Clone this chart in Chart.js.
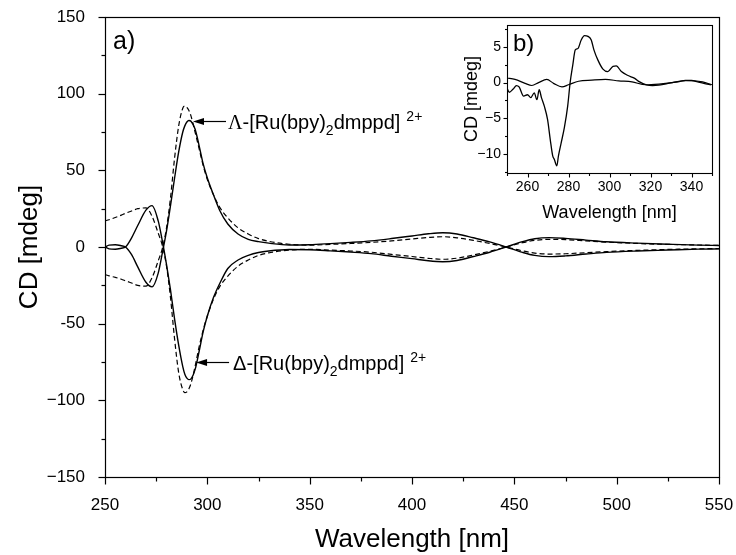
<!DOCTYPE html>
<html>
<head>
<meta charset="utf-8">
<script src="https://cdn.jsdelivr.net/npm/chart.js@4.4.0/dist/chart.umd.min.js"></script>
<style>
  body { margin: 0; background: #fff; }
  #wrap { position: relative; width: 736px; height: 555px; }
  #main { position: absolute; left: 0; top: 0; }
  #inset { position: absolute; left: 440px; top: 18px; }
</style>
</head>
<body>
<div id="wrap">
  <canvas id="main" width="736" height="555"></canvas>
  <canvas id="inset" width="279" height="212"></canvas>
</div>
<script>
// main panel a) : CD spectra of the two enantiomers (solid / dashed)
const wavelength = [250, 252, 255, 258, 260, 263, 266, 270, 273, 276, 278, 280, 282, 284, 286, 288, 289, 290, 291, 292,
  294, 296, 298, 300, 303, 306, 310, 315, 320, 325, 330, 340, 350, 360, 370, 380, 390, 400, 408, 415,
  422, 430, 438, 446, 454, 460, 467, 475, 485, 495, 510, 525, 540, 550];

const lambdaSolid = [0, 1.2, 1.5, 0.8, 0, -5, -13, -23, -26, -17, -4, 10, 27, 45, 62, 75, 79, 81.5, 82.5, 82,
  77, 66, 54, 45, 34, 24, 15, 8.5, 5, 3.5, 2.5, 1.3, 1.5, 2.2, 3, 4, 5.5, 7.2, 8.6, 9.3,
  8.5, 6, 3.3, 0, -3.5, -5.5, -6.3, -5.8, -4.6, -3.5, -2.6, -2, -1.4, -1.2];

const deltaSolid = [0, -1.2, -1.5, -0.8, 0, 6, 14, 24, 27, 17, 4, -11, -28, -47, -64, -78, -83, -85.5, -86.5, -86,
  -80, -68, -55, -45, -33, -24, -14, -8.5, -5.5, -3.6, -2.6, -1.6, -1.8, -2.5, -3.3, -4.3, -6, -7.6, -9, -9.6,
  -8.8, -6.2, -3.4, 0, 3.5, 5.4, 6.1, 5.6, 4.5, 3.4, 2.5, 1.8, 1.2, 1];

const lambdaDash = [-18, -18.8, -19.8, -21, -22, -23.5, -25, -25.5, -20, -9, -1, 12, 32, 58, 79, 90.5, 92, 91, 89, 85.5,
  75, 64, 53, 44, 34, 26, 19, 12.5, 8.5, 5.5, 3.7, 1.8, 1.2, 1.7, 2.3, 3, 4, 5.2, 6.2, 6.7,
  6, 4.3, 2.3, 0, -2.5, -4, -4.6, -4.4, -3.7, -3, -2.2, -1.6, -1.2, -1];

const deltaDash = [17, 17.8, 19.2, 20.8, 22, 23.5, 25, 25.5, 20, 9, 1, -12, -33, -60, -82, -93, -95, -94.5, -92.5, -89,
  -78, -65, -54, -45, -34, -26, -19, -12.5, -8.5, -5.5, -3.8, -2, -1.5, -2, -2.6, -3.4, -4.8, -6.2, -7.4, -8,
  -7.3, -5.2, -2.8, 0, 2.8, 4.3, 5, 4.8, 4, 3.2, 2.3, 1.7, 1.3, 1];

// inset b)
const diffWavelength = [250, 251.1, 253, 254.6, 255.9, 258.1, 260, 261.6, 263.3, 264.6, 265.7, 266.8, 268.2, 269.8, 271.1,
  272.3, 273.1, 274.3, 275.1, 276.4, 278, 279.6, 280.8, 282.1, 283.3, 284.6, 286.2, 287.8, 289.5, 291.1,
  292.4, 294.3, 296.8, 299.2, 301.7, 303.3, 305.8, 309, 312.3, 314.7, 318, 321, 324, 327, 330.5,
  334, 337, 340, 343, 346, 349.5];
const diffCD = [-0.75, -1.35, -0.9, -0.42, -0.6, -1.9, -1.7, -2.1, -1.45, -2.4, -1.0, -2.1, -3.3, -5.2, -8,
  -10.3, -10.8, -11.7, -10.3, -8.5, -6.3, -3.3, 0, 2.5, 4.6, 4.8, 6.0, 6.6, 6.5, 6.0,
  4.6, 3.2, 1.9, 1.55, 2.3, 2.35, 1.55, 1.0, 0.6, 0.1, -0.3, -0.4, -0.35, -0.2, 0,
  0.15, 0.3, 0.3, 0.1, -0.1, -0.3];

const baseWavelength = [250, 253.9, 258.8, 262.1, 265.4, 269.4, 272.7, 276.8, 280, 284.9, 291.4, 298, 304.5, 311,
  317.6, 324.1, 330.6, 337.2, 345.4, 350];
const baseCD = [0.65, 0.45, -0.1, -0.4, 0, 0.45, -0.1, -0.6, -0.3, 0.2, 0.35, 0.45, 0.25, 0.1,
  -0.3, -0.2, 0, 0.3, 0.1, -0.3];

const FONT = '"Liberation Sans", Arial, Helvetica, sans-serif';
const SERIF = '"Liberation Serif", "Times New Roman", serif';

function pts(xs, ys) { return xs.map((x, i) => ({ x: x, y: ys[i] })); }
function range(from, to, step) { const r = []; for (let v = from; v <= to + 1e-9; v += step) r.push(+v.toFixed(6)); return r; }
function line(ctx, x1, y1, x2, y2) { ctx.beginPath(); ctx.moveTo(x1, y1); ctx.lineTo(x2, y2); ctx.stroke(); }

function ds(data, dashed, width) {
  return {
    data: data, borderColor: '#000', borderWidth: width, borderDash: dashed ? [5, 3] : [],
    pointRadius: 0, fill: false, cubicInterpolationMode: 'monotone'
  };
}

// no extra room for label overhang, layout padding decides the plot box
function noPadX(s, h) { s.height = h; s.paddingLeft = 0; s.paddingRight = 0; }
function noPadY(s, w) { s.width = w; s.paddingTop = 0; s.paddingBottom = 0; }

// frame + outward major/minor ticks
function frameTicks(chart, t) {
  const ctx = chart.ctx, a = chart.chartArea, xs = chart.scales.x, ys = chart.scales.y;
  ctx.save();
  ctx.strokeStyle = '#000';
  ctx.lineWidth = t.lw;
  ctx.strokeRect(Math.round(a.left) + 0.5, Math.round(a.top) + 0.5, Math.round(a.right - a.left), Math.round(a.bottom - a.top));
  const b = Math.round(a.bottom) + 0.5, l = Math.round(a.left) + 0.5;
  t.xMaj.forEach(v => { const p = Math.round(xs.getPixelForValue(v)) + 0.5; line(ctx, p, b, p, b + t.major); });
  t.xMin.forEach(v => { const p = Math.round(xs.getPixelForValue(v)) + 0.5; line(ctx, p, b, p, b + t.minor); });
  t.yMaj.forEach(v => { const p = Math.round(ys.getPixelForValue(v)) + 0.5; line(ctx, l, p, l - t.major, p); });
  t.yMin.forEach(v => { const p = Math.round(ys.getPixelForValue(v)) + 0.5; line(ctx, l, p, l - t.minor, p); });
  ctx.restore();
}

function titles(chart, xt, yt) {
  const ctx = chart.ctx, a = chart.chartArea;
  ctx.save();
  ctx.fillStyle = '#000';
  ctx.textAlign = 'center';
  ctx.textBaseline = 'middle';
  ctx.font = xt.font;
  ctx.fillText(xt.text, (a.left + a.right) / 2, xt.y);
  ctx.translate(yt.x, (a.top + a.bottom) / 2);
  ctx.rotate(-Math.PI / 2);
  ctx.font = yt.font;
  ctx.fillText(yt.text, 0, 0);
  ctx.restore();
}

function drawFormula(ctx, x, baseY, sym, symFont) {
  const main = '20px ' + FONT, small = '14px ' + FONT;
  let cx = x;
  const put = (t, f, dy) => { ctx.font = f; ctx.fillText(t, cx, baseY + dy); cx += ctx.measureText(t).width; };
  put(sym, symFont, 0);
  put('-[Ru(bpy)', main, 0);
  put('2', small, 6);
  put('dmppd]', main, 0);
  cx += 6;
  put('2+', small, -8);
}

function arrowLeft(ctx, tipX, y, len) {
  line(ctx, tipX + 8, y, tipX + len, y);
  ctx.beginPath();
  ctx.moveTo(tipX, y);
  ctx.lineTo(tipX + 11, y - 3.5);
  ctx.lineTo(tipX + 11, y + 3.5);
  ctx.closePath();
  ctx.fill();
}

const mainDeco = {
  id: 'mainDeco',
  afterDraw(chart) {
    const ctx = chart.ctx, xs = chart.scales.x, ys = chart.scales.y;
    frameTicks(chart, {
      lw: 1.2, major: 7, minor: 4,
      xMaj: range(250, 550, 50), xMin: range(275, 525, 50),
      yMaj: range(-150, 150, 50), yMin: range(-125, 125, 50)
    });
    titles(chart,
      { text: 'Wavelength [nm]', font: '26px ' + FONT, y: 540 },
      { text: 'CD [mdeg]', font: '26px ' + FONT, x: 30 });
    ctx.save();
    ctx.fillStyle = '#000';
    ctx.strokeStyle = '#000';
    ctx.lineWidth = 1.2;
    ctx.textAlign = 'left';
    ctx.textBaseline = 'middle';
    ctx.font = '25px ' + FONT;
    ctx.fillText('a)', 113, 42);
    ctx.textBaseline = 'alphabetic';
    // Λ label
    let tx = xs.getPixelForValue(293), ty = Math.round(ys.getPixelForValue(82.2)) + 0.5;
    arrowLeft(ctx, tx, ty, 33);
    drawFormula(ctx, tx + 35, ty + 7, '\u039B', '20px ' + SERIF);
    // Δ label
    tx = xs.getPixelForValue(294.5); ty = Math.round(ys.getPixelForValue(-75)) + 0.5;
    arrowLeft(ctx, tx, ty, 33);
    drawFormula(ctx, tx + 37, ty + 7, '\u0394', '20px ' + FONT);
    ctx.restore();
  }
};

new Chart(document.getElementById('main'), {
  type: 'line',
  data: {
    datasets: [
      ds(pts(wavelength, lambdaSolid), false, 1.4),
      ds(pts(wavelength, deltaSolid), false, 1.4),
      ds(pts(wavelength, lambdaDash), true, 1.2),
      ds(pts(wavelength, deltaDash), true, 1.2)
    ]
  },
  options: {
    responsive: false, animation: false, devicePixelRatio: 1,
    layout: { padding: { top: 17, right: 17, left: 0, bottom: 0 } },
    plugins: { legend: { display: false }, tooltip: { enabled: false } },
    scales: {
      x: {
        type: 'linear', min: 250, max: 550,
        grid: { display: false, drawTicks: false }, border: { display: false },
        ticks: { stepSize: 50, padding: 18, color: '#000', font: { family: FONT, size: 17 }, maxRotation: 0 },
        afterFit(s) { noPadX(s, 78); }
      },
      y: {
        type: 'linear', min: -150, max: 150,
        grid: { display: false, drawTicks: false }, border: { display: false },
        ticks: {
          stepSize: 50, padding: 20, color: '#000', font: { family: FONT, size: 17 },
          callback: v => v === -50 ? '-50' : (v < 0 ? '\u2212' + Math.abs(v) : String(v))
        },
        afterFit(s) { noPadY(s, 105); }
      }
    }
  },
  plugins: [mainDeco]
});

const insetDeco = {
  id: 'insetDeco',
  afterDraw(chart) {
    const ctx = chart.ctx;
    frameTicks(chart, {
      lw: 1.1, major: 4, minor: 2.5,
      xMaj: range(260, 340, 20), xMin: range(250, 350, 20),
      yMaj: [-10, -5, 0, 5], yMin: [-12.5, -7.5, -2.5, 2.5, 7.5]
    });
    titles(chart,
      { text: 'Wavelength [nm]', font: '18px ' + FONT, y: 195 },
      { text: 'CD [mdeg]', font: '18px ' + FONT, x: 32 });
    ctx.save();
    ctx.fillStyle = '#000';
    ctx.textAlign = 'left';
    ctx.textBaseline = 'middle';
    ctx.font = '24px ' + FONT;
    ctx.fillText('b)', 73, 26);
    ctx.restore();
  }
};

new Chart(document.getElementById('inset'), {
  type: 'line',
  data: {
    datasets: [
      ds(pts(baseWavelength, baseCD), false, 1.2),
      ds(pts(diffWavelength, diffCD), false, 1.3)
    ]
  },
  options: {
    responsive: false, animation: false, devicePixelRatio: 1,
    layout: { padding: { top: 7, right: 7, left: 0, bottom: 0 } },
    plugins: { legend: { display: false }, tooltip: { enabled: false } },
    scales: {
      x: {
        type: 'linear', min: 250, max: 350,
        grid: { display: false, drawTicks: false }, border: { display: false },
        ticks: {
          stepSize: 20, includeBounds: false, padding: 6, color: '#000', font: { family: FONT, size: 14 }, maxRotation: 0,
          callback: v => (v - 260) % 20 === 0 && v >= 260 && v <= 340 ? String(v) : ''
        },
        afterBuildTicks(s) { s.ticks = range(260, 340, 20).map(v => ({ value: v })); },
        afterFit(s) { noPadX(s, 57); }
      },
      y: {
        type: 'linear', min: -12.7, max: 8.1,
        grid: { display: false, drawTicks: false }, border: { display: false },
        ticks: {
          padding: 6, color: '#000', font: { family: FONT, size: 14 },
          callback: v => v < 0 ? '\u2212' + Math.abs(v) : String(v)
        },
        afterBuildTicks(s) { s.ticks = [-10, -5, 0, 5].map(v => ({ value: v })); },
        afterFit(s) { noPadY(s, 67); }
      }
    }
  },
  plugins: [insetDeco]
});
</script>
</body>
</html>
